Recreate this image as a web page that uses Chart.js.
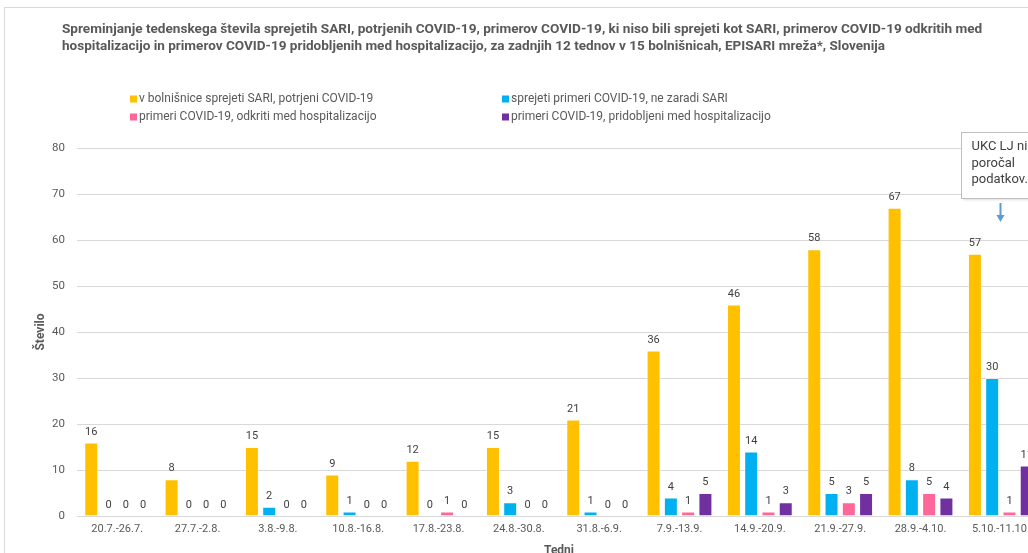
<!DOCTYPE html>
<html>
<head>
<meta charset="utf-8">
<script src="https://cdn.jsdelivr.net/npm/chart.js@4.4.1/dist/chart.umd.min.js"></script>
<style>
  html, body { margin: 0; padding: 0; background: #fff; overflow: hidden; }
  #wrap { position: absolute; left: 0; top: 0; width: 1075px; height: 575px; }
</style>
</head>
<body>
<div id="wrap"><canvas id="c"></canvas></div>
<script>
const categories = ['20.7.-26.7.', '27.7.-2.8.', '3.8.-9.8.', '10.8.-16.8.', '17.8.-23.8.', '24.8.-30.8.', '31.8.-6.9.', '7.9.-13.9.', '14.9.-20.9.', '21.9.-27.9.', '28.9.-4.10.', '5.10.-11.10.'];
const sariConfirmed   = [16, 8, 15, 9, 12, 15, 21, 36, 46, 58, 67, 57];
const notSari         = [0, 0, 2, 1, 0, 3, 1, 4, 14, 5, 8, 30];
const foundInHospital = [0, 0, 0, 0, 1, 0, 0, 1, 1, 3, 5, 1];
const acquiredInHosp  = [0, 0, 0, 0, 0, 0, 0, 5, 3, 5, 4, 11];
const seriesLabels = [
  'v bolnišnice sprejeti SARI, potrjeni COVID-19',
  'sprejeti primeri COVID-19, ne zaradi SARI',
  'primeri COVID-19, odkriti med hospitalizacijo',
  'primeri COVID-19, pridobljeni med hospitalizacijo'
];
const seriesColors = ['#FFC000', '#00B0F0', '#FF6699', '#7030A0'];
const titleLines = [
  'Spreminjanje tedenskega števila sprejetih SARI, potrjenih COVID-19, primerov COVID-19, ki niso bili sprejeti kot SARI, primerov COVID-19 odkritih med',
  'hospitalizacijo in primerov COVID-19 pridobljenih med hospitalizacijo, za zadnjih 12 tednov v 15 bolnišnicah, EPISARI mreža*, Slovenija'
];
const noteLines = ['UKC LJ ni', 'poročal', 'podatkov.'];
const yTicks = { min: 0, max: 80, step: 10 };

const FONT = 'Roboto, "Noto Sans", sans-serif';
const TEXT = '#595959';

const decorPlugin = {
  id: 'decor',
  beforeDraw(chart) {
    const ctx = chart.ctx;
    ctx.save();
    ctx.fillStyle = '#fff';
    ctx.fillRect(0, 0, chart.width, chart.height);
    ctx.strokeStyle = '#d9d9d9';
    ctx.lineWidth = 1;
    ctx.strokeRect(4.5, 7.5, chart.width, chart.height);
    // title
    ctx.fillStyle = TEXT;
    ctx.font = 'bold 13.6px ' + FONT;
    ctx.textAlign = 'left';
    ctx.textBaseline = 'middle';
    ctx.fillText(titleLines[0], 62, 30, 923);
    ctx.fillText(titleLines[1], 62, 47, 823);
    // legend (2 x 2)
    ctx.font = '12px ' + FONT;
    const cols = [130, 502];
    const rows = [99, 117];
    seriesLabels.forEach((lab, i) => {
      const x = cols[i % 2], y = rows[Math.floor(i / 2)];
      ctx.fillStyle = seriesColors[i];
      ctx.fillRect(x, y - 3.5, 7, 7);
      ctx.fillStyle = TEXT;
      ctx.fillText(lab, x + 9, y);
    });
    ctx.restore();
  },
  afterDatasetsDraw(chart) {
    const ctx = chart.ctx;
    ctx.save();
    ctx.fillStyle = '#404040';
    ctx.font = '11px ' + FONT;
    ctx.textAlign = 'center';
    ctx.textBaseline = 'bottom';
    chart.data.datasets.forEach((ds, di) => {
      const meta = chart.getDatasetMeta(di);
      meta.data.forEach((bar, i) => {
        ctx.fillText(String(ds.data[i]), bar.x, bar.y - 5);
      });
    });
    // note box + arrow for last category
    const xs = chart.scales.x;
    const xl = xs.getPixelForValue(categories.length - 1);
    const bx = Math.round(xl - 40) + 0.5, by = 132.5, bw = 90, bh = 66;
    ctx.shadowColor = 'rgba(0,0,0,0.18)';
    ctx.shadowBlur = 3;
    ctx.shadowOffsetX = 1;
    ctx.shadowOffsetY = 1;
    ctx.fillStyle = '#fff';
    ctx.fillRect(bx, by, bw, bh);
    ctx.shadowColor = 'transparent';
    ctx.strokeStyle = '#bfbfbf';
    ctx.lineWidth = 1;
    ctx.strokeRect(bx, by, bw, bh);
    ctx.fillStyle = '#404040';
    ctx.font = '13px ' + FONT;
    ctx.textAlign = 'left';
    ctx.textBaseline = 'middle';
    noteLines.forEach((t, i) => ctx.fillText(t, bx + 10, 147 + i * 16.5));
    // arrow
    const ax = Math.round(xl - 1) + 0.5;
    ctx.strokeStyle = '#5B9BD5';
    ctx.fillStyle = '#5B9BD5';
    ctx.lineWidth = 2;
    ctx.beginPath();
    ctx.moveTo(ax, 203);
    ctx.lineTo(ax, 216);
    ctx.stroke();
    ctx.beginPath();
    ctx.moveTo(ax - 4, 215);
    ctx.lineTo(ax + 4, 215);
    ctx.lineTo(ax, 222);
    ctx.closePath();
    ctx.fill();
    ctx.restore();
  }
};

const allSeries = [sariConfirmed, notSari, foundInHospital, acquiredInHosp];

new Chart(document.getElementById('c'), {
  type: 'bar',
  data: {
    labels: categories,
    datasets: allSeries.map((d, i) => ({
      label: seriesLabels[i],
      data: d,
      backgroundColor: seriesColors[i],
      borderColor: 'rgba(255,255,255,0.45)',
      borderWidth: 1,
      categoryPercentage: 0.86,
      barPercentage: 0.81
    }))
  },
  options: {
    responsive: true,
    maintainAspectRatio: false,
    animation: false,
    events: [],
    layout: { padding: { top: 148, right: 34, bottom: 0, left: 0 } },
    plugins: {
      legend: { display: false },
      title: { display: false },
      tooltip: { enabled: false }
    },
    scales: {
      x: {
        grid: { display: false, drawTicks: false },
        border: { display: false },
        ticks: { color: TEXT, font: { family: FONT, size: 11 }, padding: 7, maxRotation: 0, autoSkip: false },
        title: { display: true, text: 'Tedni', color: TEXT, font: { family: FONT, size: 12, weight: 'bold' }, padding: { top: 0, bottom: 17 } },
        afterFit(s) { s.height = 575 - 516; }
      },
      y: {
        min: yTicks.min,
        max: yTicks.max,
        ticks: { stepSize: yTicks.step, color: TEXT, font: { family: FONT, size: 11.5 }, padding: 12 },
        grid: { color: '#d9d9d9', drawTicks: false, lineWidth: 1 },
        border: { display: false },
        title: { display: true, text: 'Število', color: TEXT, font: { family: FONT, size: 12, weight: 'bold' }, padding: { top: 34, bottom: 0 } },
        afterFit(s) { s.width = 77; }
      }
    }
  },
  plugins: [decorPlugin]
});
</script>
</body>
</html>
